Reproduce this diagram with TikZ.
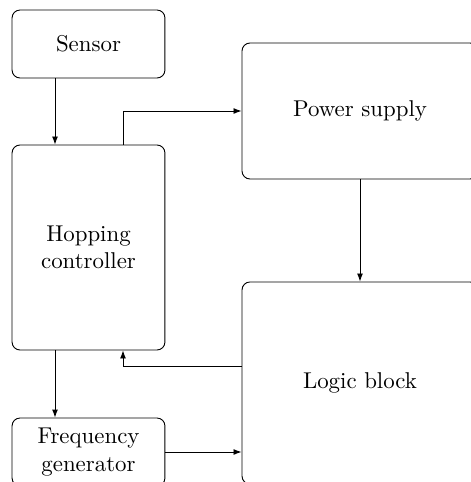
\documentclass[tikz,border=0pt]{standalone}
\usetikzlibrary{arrows.meta}
\begin{document}
\begin{tikzpicture}[x=0.4375pt,y=-0.4375pt,
  block/.style={draw, rounded corners=3.5pt, align=center, inner sep=0pt, line width=0.4pt},
  arr/.style={-{Latex[length=3.5pt,width=2.6pt]}, line width=0.4pt}]
\useasboundingbox (0,0) rectangle (470,482);
\node[block, minimum width=66.9pt, minimum height=29.75pt] (sensor) at (88.5,44) {Sensor};
\node[block, minimum width=66.9pt, minimum height=89.7pt] (hop) at (88.5,247.5) {Hopping\\controller};
\node[block, minimum width=66.9pt, minimum height=29.75pt] (freq) at (88.5,452) {Frequency\\generator};
\node[block, minimum width=103.25pt, minimum height=59.5pt] (power) at (360,111) {Power supply};
\node[block, minimum width=103.25pt, minimum height=88.4pt] (logic) at (360,383) {Logic block};
\coordinate (lx) at (55,0);
\coordinate (rx) at (123,0);
\coordinate (fb) at (0,366);
\draw[arr] (sensor.south -| lx) -- (hop.north -| lx);
\draw[arr] (hop.north -| rx) |- (power.west);
\draw[arr] (power.south) -- (logic.north);
\draw[arr] (logic.west |- fb) -| (hop.south -| rx);
\draw[arr] (hop.south -| lx) -- (freq.north -| lx);
\draw[arr] (freq.east) -- (freq.east -| logic.west);
\end{tikzpicture}
\end{document}
